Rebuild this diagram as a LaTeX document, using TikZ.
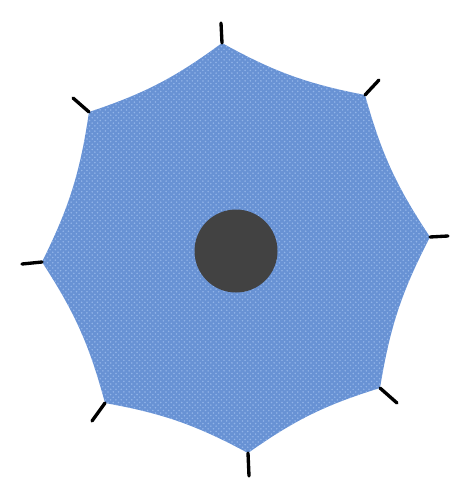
\documentclass[tikz,border=0pt]{standalone}
\usetikzlibrary{patterns}
\definecolor{clothblue}{RGB}{104,146,212}
\definecolor{clothlight}{RGB}{145,180,232}
\definecolor{hubgray}{RGB}{66,66,66}
\tikzset{
	cloth/.style={fill=clothblue},
	clothdots/.style={pattern=crosshatch dots,pattern color=clothlight},
	tick/.style={line width=1.9pt,line cap=round}
}
\begin{document}
\begin{tikzpicture}[x=0.02cm,y=-0.02cm,line join=round]
		\useasboundingbox (0,0) rectangle (471,500);
		%==các đỉnh và đầu que
		\coordinate (A) at (222,43);   \coordinate (A') at (221,23);
		\coordinate (B) at (365,95);   \coordinate (B') at (379,80);
		\coordinate (C) at (430,237);  \coordinate (C') at (448,236);
		\coordinate (D) at (380,388);  \coordinate (D') at (397,403);
		\coordinate (E) at (248,453);  \coordinate (E') at (249,476);
		\coordinate (F) at (105,403);  \coordinate (F') at (92,421);
		\coordinate (G) at (42,262);   \coordinate (G') at (22,264);
		\coordinate (H) at (89,112);   \coordinate (H') at (73,98);
		%==============
		\path[cloth] (A) to[bend right=9] (B) to[bend right=9] (C) to[bend right=9] (D) to[bend right=9] (E)
			to[bend right=9] (F) to[bend right=9] (G) to[bend right=9] (H) to[bend right=9] (A) -- cycle;
		\path[clothdots] (A) to[bend right=9] (B) to[bend right=9] (C) to[bend right=9] (D) to[bend right=9] (E)
			to[bend right=9] (F) to[bend right=9] (G) to[bend right=9] (H) to[bend right=9] (A) -- cycle;
		\foreach \x in {A,B,C,D,E,F,G,H}\draw[tick] (\x)--(\x');
		\fill[hubgray] (236,251) circle (41.5);
\end{tikzpicture}
\end{document}
